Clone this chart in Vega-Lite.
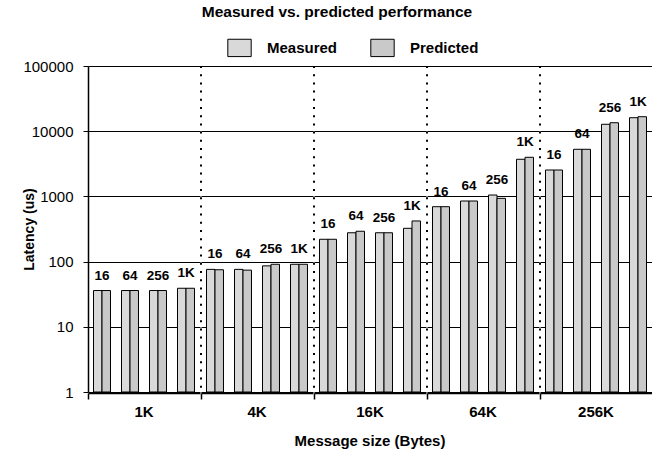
{
  "$schema": "https://vega.github.io/schema/vega-lite/v6.json",
  "padding": {"left": 22, "top": 4, "right": 4, "bottom": 5},
  "title": {
    "text": "Measured vs. predicted performance",
    "font": "Liberation Sans",
    "fontSize": 15.5,
    "fontWeight": "bold",
    "color": "black",
    "anchor": "middle",
    "frame": "bounds",
    "offset": 18
  },
  "data": {
    "values": [
      {"size": "1K", "sub": "16", "series": "Measured", "latency": 36},
      {"size": "1K", "sub": "16", "series": "Predicted", "latency": 36},
      {"size": "1K", "sub": "64", "series": "Measured", "latency": 36},
      {"size": "1K", "sub": "64", "series": "Predicted", "latency": 36},
      {"size": "1K", "sub": "256", "series": "Measured", "latency": 36},
      {"size": "1K", "sub": "256", "series": "Predicted", "latency": 36},
      {"size": "1K", "sub": "1K", "series": "Measured", "latency": 39},
      {"size": "1K", "sub": "1K", "series": "Predicted", "latency": 39},
      {"size": "4K", "sub": "16", "series": "Measured", "latency": 76},
      {"size": "4K", "sub": "16", "series": "Predicted", "latency": 75},
      {"size": "4K", "sub": "64", "series": "Measured", "latency": 76},
      {"size": "4K", "sub": "64", "series": "Predicted", "latency": 74},
      {"size": "4K", "sub": "256", "series": "Measured", "latency": 86},
      {"size": "4K", "sub": "256", "series": "Predicted", "latency": 91},
      {"size": "4K", "sub": "1K", "series": "Measured", "latency": 91},
      {"size": "4K", "sub": "1K", "series": "Predicted", "latency": 91},
      {"size": "16K", "sub": "16", "series": "Measured", "latency": 220},
      {"size": "16K", "sub": "16", "series": "Predicted", "latency": 220},
      {"size": "16K", "sub": "64", "series": "Measured", "latency": 277},
      {"size": "16K", "sub": "64", "series": "Predicted", "latency": 292},
      {"size": "16K", "sub": "256", "series": "Measured", "latency": 277},
      {"size": "16K", "sub": "256", "series": "Predicted", "latency": 277},
      {"size": "16K", "sub": "1K", "series": "Measured", "latency": 324},
      {"size": "16K", "sub": "1K", "series": "Predicted", "latency": 420},
      {"size": "64K", "sub": "16", "series": "Measured", "latency": 695},
      {"size": "64K", "sub": "16", "series": "Predicted", "latency": 695},
      {"size": "64K", "sub": "64", "series": "Measured", "latency": 850},
      {"size": "64K", "sub": "64", "series": "Predicted", "latency": 850},
      {"size": "64K", "sub": "256", "series": "Measured", "latency": 1050},
      {"size": "64K", "sub": "256", "series": "Predicted", "latency": 934},
      {"size": "64K", "sub": "1K", "series": "Measured", "latency": 3710},
      {"size": "64K", "sub": "1K", "series": "Predicted", "latency": 3980},
      {"size": "256K", "sub": "16", "series": "Measured", "latency": 2540},
      {"size": "256K", "sub": "16", "series": "Predicted", "latency": 2540},
      {"size": "256K", "sub": "64", "series": "Measured", "latency": 5280},
      {"size": "256K", "sub": "64", "series": "Predicted", "latency": 5280},
      {"size": "256K", "sub": "256", "series": "Measured", "latency": 12770},
      {"size": "256K", "sub": "256", "series": "Predicted", "latency": 13490},
      {"size": "256K", "sub": "1K", "series": "Measured", "latency": 16100},
      {"size": "256K", "sub": "1K", "series": "Predicted", "latency": 16680}
    ]
  },
  "facet": {
    "column": {
      "field": "size",
      "type": "ordinal",
      "sort": ["1K", "4K", "16K", "64K", "256K"],
      "header": {
        "title": "Message size (Bytes)",
        "titleOrient": "bottom",
        "titleFont": "Liberation Sans",
        "titleFontSize": 15,
        "titleFontWeight": "bold",
        "titleColor": "black",
        "titlePadding": 4,
        "labelOrient": "bottom",
        "labelFont": "Liberation Sans",
        "labelFontSize": 15,
        "labelFontWeight": "bold",
        "labelColor": "black",
        "labelPadding": 5
      }
    }
  },
  "spacing": 0,
  "spec": {
    "width": 112,
    "height": 326,
    "encoding": {
      "x": {
        "field": "sub",
        "type": "ordinal",
        "sort": ["16", "64", "256", "1K"],
        "scale": {"paddingInner": 0, "paddingOuter": 0},
        "axis": {
          "title": null,
          "labels": false,
          "values": ["16"],
          "bandPosition": 0,
          "tickSize": 6,
          "tickColor": "black",
          "domainColor": "black",
          "domainWidth": 1.5,
          "tickWidth": 1.5
        }
      }
    },
    "layer": [
      {
        "transform": [
          {"filter": "datum.sub == '16' && datum.series == 'Measured' && datum.size != '1K'"}
        ],
        "mark": {"type": "rule", "color": "black", "strokeWidth": 2, "strokeDash": [2, 6.2]},
        "encoding": {
          "x": {"field": "sub", "type": "ordinal", "sort": ["16", "64", "256", "1K"], "bandPosition": 0}
        }
      },
      {
        "mark": {"type": "bar", "stroke": "black", "strokeWidth": 1},
        "encoding": {
          "xOffset": {
            "field": "series",
            "type": "nominal",
            "scale": {"paddingInner": 0, "paddingOuter": 0.65}
          },
          "y": {
            "field": "latency",
            "type": "quantitative",
            "scale": {"type": "log", "domain": [1, 100000], "nice": false},
            "axis": {
              "title": "Latency (us)",
              "titleFont": "Liberation Sans",
              "titleFontSize": 14,
              "titleFontWeight": "bold",
              "titleColor": "black",
              "titleX": -52,
              "values": [1, 10, 100, 1000, 10000, 100000],
              "format": "d",
              "labelFont": "Liberation Sans",
              "labelFontSize": 15,
              "labelColor": "black",
              "labelPadding": 10,
              "tickSize": 5,
              "tickColor": "black",
              "domainColor": "black",
              "domainWidth": 1.5,
              "grid": true,
              "gridColor": "black",
              "gridOpacity": 1,
              "gridWidth": 1.2
            }
          },
          "y2": {"datum": 1},
          "fill": {
            "field": "series",
            "type": "nominal",
            "scale": {"domain": ["Measured", "Predicted"], "range": ["#d9d9d9", "#c9c9c9"]},
            "legend": {
              "title": null,
              "orient": "none",
              "direction": "horizontal",
              "legendX": 142,
              "legendY": -28,
              "symbolType": "M-1.35,-1L1.35,-1L1.35,1L-1.35,1Z",
              "symbolSize": 300,
              "symbolStrokeColor": "black",
              "symbolStrokeWidth": 1,
              "labelFont": "Liberation Sans",
              "labelFontSize": 15,
              "labelFontWeight": "bold",
              "labelColor": "black",
              "labelOffset": 18,
              "columnPadding": 30
            }
          }
        }
      },
      {
        "mark": {
          "type": "text",
          "font": "Liberation Sans",
          "fontSize": 13.5,
          "fontWeight": "bold",
          "color": "black",
          "baseline": "alphabetic",
          "dy": -11
        },
        "encoding": {
          "y": {"aggregate": "max", "field": "latency", "type": "quantitative"},
          "text": {"field": "sub", "type": "nominal"}
        }
      }
    ]
  },
  "config": {
    "view": {"stroke": null},
    "background": "white"
  }
}
